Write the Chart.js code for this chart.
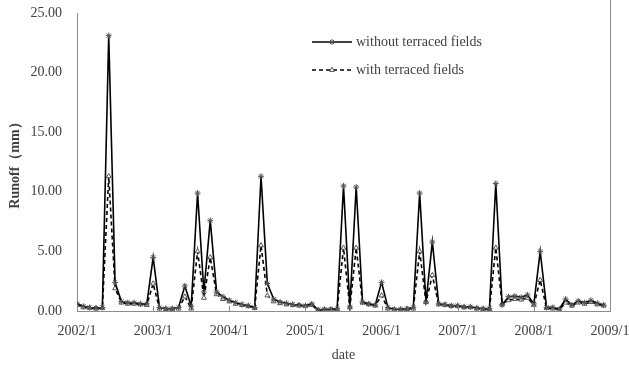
<!DOCTYPE html>
<html>
<head>
<meta charset="utf-8">
<script src="https://cdn.jsdelivr.net/npm/chart.js@4.4.1/dist/chart.umd.min.js"></script>
<style>
  html, body { margin: 0; padding: 0; background: #fff; }
  #wrap { width: 629px; height: 368px; position: relative; }
</style>
</head>
<body>
<div id="wrap"><canvas id="runoffChart"></canvas></div>
<script>
/* Monthly runoff 2002–2008, with / without terraced fields */

// ── Data ───────────────────────────────────────────────────────────────────

const YEAR_LABELS = ['2002/1', '2003/1', '2004/1', '2005/1', '2006/1', '2007/1', '2008/1', '2009/1'];

// one value per month, 2002/1 … 2008/12
const WITHOUT_TERRACE = [
  0.6, 0.4, 0.3, 0.25, 0.3, 23.1, 2.4, 0.8, 0.7, 0.7, 0.6, 0.6,
  4.5, 0.3, 0.2, 0.2, 0.3, 2.1, 0.4, 9.9, 1.6, 7.6, 1.6, 1.2,
  0.9, 0.7, 0.55, 0.45, 0.3, 11.3, 2.3, 1.0, 0.75, 0.65, 0.55, 0.5,
  0.45, 0.6, 0.1, 0.15, 0.15, 0.2, 10.5, 0.35, 10.4, 0.75, 0.6, 0.5,
  2.4, 0.3, 0.15, 0.15, 0.2, 0.3, 9.9, 0.75, 5.8, 0.6, 0.55, 0.45,
  0.45, 0.35, 0.35, 0.25, 0.2, 0.2, 10.7, 0.5, 1.2, 1.25, 1.15, 1.35,
  0.6, 5.0, 0.3, 0.3, 0.15, 1.0, 0.5, 0.85, 0.7, 0.9, 0.65, 0.5
];

const WITH_TERRACE = [
  0.5, 0.3, 0.25, 0.2, 0.25, 11.3, 1.9, 0.7, 0.6, 0.6, 0.55, 0.5,
  2.3, 0.2, 0.15, 0.15, 0.2, 1.2, 0.2, 5.0, 1.1, 4.5, 1.4, 1.0,
  0.8, 0.6, 0.5, 0.4, 0.25, 5.5, 1.3, 0.8, 0.65, 0.55, 0.5, 0.45,
  0.4, 0.5, 0.05, 0.1, 0.1, 0.15, 5.3, 0.3, 5.3, 0.7, 0.55, 0.45,
  1.3, 0.2, 0.1, 0.1, 0.15, 0.2, 5.0, 0.75, 3.0, 0.55, 0.5, 0.4,
  0.4, 0.3, 0.3, 0.2, 0.15, 0.15, 5.3, 0.6, 0.9, 1.0, 0.95, 1.1,
  0.5, 2.6, 0.25, 0.2, 0.1, 0.7, 0.45, 0.7, 0.6, 0.75, 0.55, 0.45
];

const Y_MAX  = 25;
const Y_STEP = 5;

// ── Style ──────────────────────────────────────────────────────────────────

const FONT      = "'Liberation Serif', 'Times New Roman', serif";
const TEXT_CLR  = '#404040';
const AXIS_CLR  = '#8c8c8c';
const MARK_CLR  = '#555555';

const toPoints = arr => arr.map((v, i) => ({ x: i, y: v }));

// ── Plugins ────────────────────────────────────────────────────────────────

const white = {
  id: 'white',
  beforeDraw: c => {
    const ctx = c.ctx;
    ctx.save();
    ctx.fillStyle = '#fff';
    ctx.fillRect(0, 0, c.width, c.height);
    ctx.restore();
  }
};

// inner tick marks on the date axis + right frame line
const frame = {
  id: 'frame',
  afterDraw: c => {
    const { ctx, chartArea: a, scales: { x } } = c;
    ctx.save();
    ctx.strokeStyle = AXIS_CLR;
    ctx.lineWidth = 1;
    ctx.beginPath();
    YEAR_LABELS.forEach((_, i) => {
      const px = Math.round(x.getPixelForValue(i * 12)) + 0.5;
      ctx.moveTo(px, a.bottom);
      ctx.lineTo(px, a.bottom - 5);
    });
    ctx.moveTo(Math.round(a.right) + 0.5, a.top - 13);
    ctx.lineTo(Math.round(a.right) + 0.5, a.bottom);
    ctx.stroke();
    ctx.restore();
  }
};

// legend drawn inside the plot, two rows
const legendBox = {
  id: 'legendBox',
  afterDraw: c => {
    const ctx = c.ctx;
    const x0 = 312, x1 = 352, tx = 356;
    const rows = [42, 70];
    ctx.save();
    c.data.datasets.forEach((ds, i) => {
      const y = rows[i];
      ctx.strokeStyle = ds.borderColor;
      ctx.lineWidth = ds.borderWidth;
      ctx.setLineDash(ds.borderDash || []);
      ctx.beginPath();
      ctx.moveTo(x0, y);
      ctx.lineTo(x1, y);
      ctx.stroke();
      ctx.setLineDash([]);
      ctx.strokeStyle = ds.pointBorderColor;
      ctx.fillStyle = ds.pointBackgroundColor;
      ctx.lineWidth = 1;
      Chart.helpers.drawPoint(ctx, {
        pointStyle: ds.pointStyle, radius: ds.pointRadius, rotation: 0, borderWidth: 1
      }, (x0 + x1) / 2, y);
      ctx.fillStyle = TEXT_CLR;
      ctx.font = `14px ${FONT}`;
      ctx.textBaseline = 'middle';
      ctx.fillText(ds.label, tx, y);
    });
    ctx.restore();
  }
};

// ── Chart ──────────────────────────────────────────────────────────────────

const ctx = document.getElementById('runoffChart').getContext('2d');

new Chart(ctx, {
  type: 'line',
  data: {
    datasets: [
      {
        label: 'without terraced fields',
        data: toPoints(WITHOUT_TERRACE),
        borderColor: '#000',
        borderWidth: 1.6,
        pointStyle: 'star',
        pointRadius: 3,
        pointBorderColor: MARK_CLR,
        pointBackgroundColor: MARK_CLR,
        pointBorderWidth: 1,
        tension: 0
      },
      {
        label: 'with terraced fields',
        data: toPoints(WITH_TERRACE),
        borderColor: '#000',
        borderWidth: 1.6,
        borderDash: [4, 3],
        pointStyle: 'triangle',
        pointRadius: 2.8,
        pointBorderColor: MARK_CLR,
        pointBackgroundColor: '#fff',
        pointBorderWidth: 1,
        tension: 0
      }
    ]
  },
  options: {
    responsive: true,
    maintainAspectRatio: false,
    animation: false,
    layout: { padding: { top: 13, right: 19, left: 0, bottom: 0 } },
    plugins: {
      legend: { display: false },
      tooltip: { enabled: false }
    },
    scales: {
      x: {
        type: 'linear',
        min: 0,
        max: (YEAR_LABELS.length - 1) * 12,
        afterFit: s => { s.height = 57; s.paddingLeft = 0; s.paddingRight = 0; },
        grid: { drawOnChartArea: false, drawTicks: false },
        border: { display: true, color: AXIS_CLR, width: 1 },
        ticks: {
          stepSize: 12,
          autoSkip: false,
          maxRotation: 0,
          padding: 12,
          color: TEXT_CLR,
          font: { family: FONT, size: 14 },
          callback: v => YEAR_LABELS[v / 12]
        },
        title: {
          display: true,
          text: 'date',
          color: TEXT_CLR,
          font: { family: FONT, size: 14 },
          padding: { top: 0, bottom: 4 }
        }
      },
      y: {
        min: 0,
        max: Y_MAX,
        afterFit: s => { s.width = 77; s.paddingTop = 0; s.paddingBottom = 0; },
        grid: { drawOnChartArea: false, drawTicks: false },
        border: { display: true, color: AXIS_CLR, width: 1 },
        ticks: {
          stepSize: Y_STEP,
          padding: 15,
          color: TEXT_CLR,
          font: { family: FONT, size: 14 },
          callback: v => v.toFixed(2)
        },
        title: {
          display: true,
          text: 'Runoff（mm）',
          color: TEXT_CLR,
          font: { family: FONT, size: 14, weight: 'bold' },
          padding: { top: 7, bottom: 0 }
        }
      }
    }
  },
  plugins: [white, frame, legendBox]
});
</script>
</body>
</html>
